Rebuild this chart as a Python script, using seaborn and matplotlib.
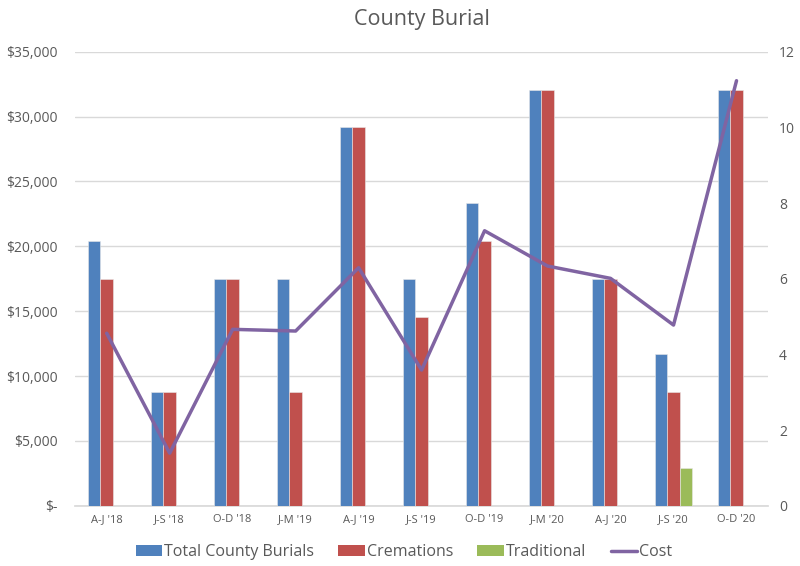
import matplotlib
matplotlib.use("Agg")
import matplotlib.pyplot as plt
import matplotlib.ticker as mticker
from matplotlib.patches import Patch
from matplotlib.lines import Line2D
import seaborn as sns
import pandas as pd

periods = ["A-J '18", "J-S '18", "O-D '18", "J-M '19", "A-J '19", "J-S '19",
           "O-D '19", "J-M '20", "A-J '20", "J-S '20", "O-D '20"]
total_burials = [7, 3, 6, 6, 10, 6, 8, 11, 6, 4, 11]
cremations = [6, 3, 6, 3, 10, 5, 7, 11, 6, 3, 11]
traditional = [0, 0, 0, 0, 0, 0, 0, 0, 0, 1, 0]
cost = [13300, 4050, 13600, 13470, 18350, 10460, 21200, 18480, 17530, 13930, 32770]
series_names = ["Total County Burials", "Cremations", "Traditional"]
colors = {"Total County Burials": "#4F81BD", "Cremations": "#C0504D",
          "Traditional": "#9BBB59"}
line_color = "#8064A2"

rows = []
for name, vals in zip(series_names, [total_burials, cremations, traditional]):
    for p, v in zip(periods, vals):
        rows.append({"Period": p, "Series": name, "Count": v})
df = pd.DataFrame(rows)
cost_df = pd.DataFrame({"Period": periods, "Cost": cost, "x": range(len(periods))})

sns.set_theme(style="white")
plt.rcParams["font.family"] = ["Open Sans", "DejaVu Sans"]

fig = plt.figure(figsize=(8, 5.66), dpi=100)
ax = fig.add_axes([0.094, 0.1065, 0.866, 0.802])  # cost axis (grid, left ticks)
ax_bar = ax.twinx()
ax_line = ax.twinx()

# Cost axis: grid only
ax.set_ylim(0, 35000)
ax.set_yticks(range(0, 35001, 5000))
ax.yaxis.set_major_formatter(mticker.FuncFormatter(
    lambda v, p: "$-" if v == 0 else f"${v:,.0f}"))
ax.grid(axis="y", color="#D9D9D9", linewidth=1)
ax.set_axisbelow(True)
ax.tick_params(axis="y", labelsize=10, colors="#595959", length=0, pad=12.5)

# Bars
sns.barplot(data=df, x="Period", y="Count", hue="Series", palette=colors,
            ax=ax_bar, width=0.6, gap=0, saturation=1, legend=False,
            edgecolor="#E8E8E8", linewidth=0.4)
ax_bar.set_ylim(0, 12)
ax_bar.set_yticks(range(0, 13, 2))
ax_bar.tick_params(axis="y", labelsize=10, colors="#595959", length=0, pad=8)
ax_bar.set_xlabel("")
ax_bar.set_ylabel("")

# Line
sns.lineplot(data=cost_df, x="x", y="Cost", ax=ax_line, color=line_color,
             linewidth=2.5, legend=False)
ax_line.set_ylim(0, 35000)
ax_line.set_yticks([])
ax_line.set_ylabel("")
ax_line.set_xlabel("")

ax.set_xlim(-0.5, len(periods) - 0.5)
ax.set_xticks(range(len(periods)))
ax.set_xticklabels(periods)
ax.tick_params(axis="x", labelsize=8, colors="#595959", length=0, pad=6,
               labelbottom=True)

for a in (ax, ax_bar, ax_line):
    for s in a.spines.values():
        s.set_visible(False)
ax.spines["bottom"].set_visible(True)
ax.spines["bottom"].set_color("#D9D9D9")
ax.set_ylabel("")
ax.set_xlabel("")

fig.text(0.527, 0.965, "County Burial", ha="center", va="center",
         fontsize=15.5, color="#595959")

handles = [Patch(facecolor=colors[n], edgecolor="none") for n in series_names]
handles.append(Line2D([0], [0], color=line_color, linewidth=2.5))
labels = series_names + ["Cost"]
fig.legend(handles, labels, loc="center", ncol=4, frameon=False,
           bbox_to_anchor=(0.505, 0.024), fontsize=11.5, labelcolor="#595959",
           handlelength=1.65, handleheight=0.65, columnspacing=1.5,
           handletextpad=0.15)

fig.savefig("out.png", dpi=100)
